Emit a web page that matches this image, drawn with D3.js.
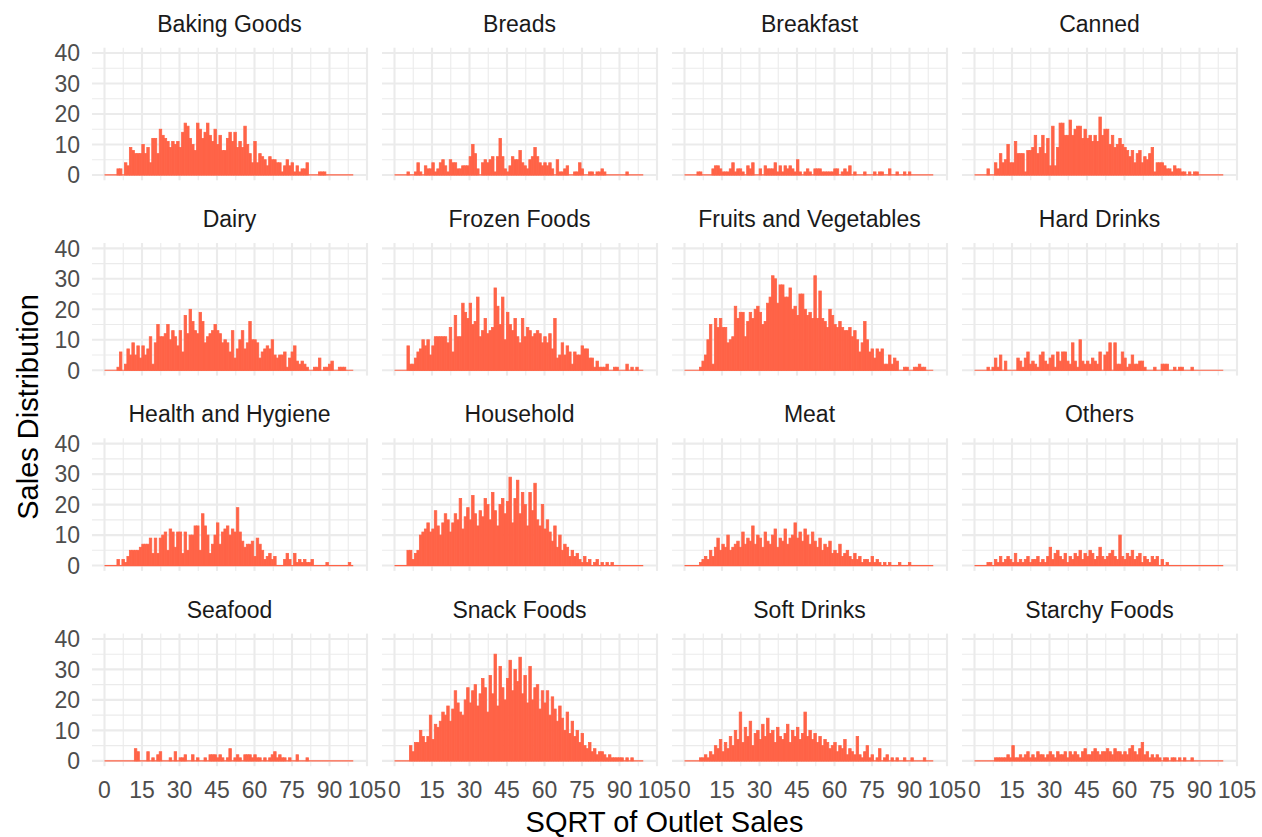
<!DOCTYPE html>
<html><head><meta charset="utf-8">
<script src="https://cdn.jsdelivr.net/npm/d3@7"></script>
<style>body{margin:0;background:#fff}svg{display:block}text{font-family:"Liberation Sans",Arial,Helvetica,sans-serif}</style>
</head><body><svg id="chart" width="1262" height="837"></svg>
<script>
const categories = ["Baking Goods","Breads","Breakfast","Canned","Dairy","Frozen Foods","Fruits and Vegetables","Hard Drinks","Health and Hygiene","Household","Meat","Others","Seafood","Snack Foods","Soft Drinks","Starchy Foods"];

const bakingGoods = [0,0,0,0,0,2,2,0,4,3, 9,8,7,7,7,10,7,9,4,12, 12,7,15,13,12,11,9,11,10,11, 9,14,17,16,12,10,8,17,15,12, 14,17,13,11,15,10,13,8,8,12, 14,11,14,9,11,9,16,10,7,4, 11,4,7,6,5,3,6,5,5,4, 4,1,3,5,3,4,1,3,1,2, 2,4,0,0,0,0,1,1,1,0, 0,0,0,0,0,0,0,0,0,0];
const breads = [0,0,0,0,0,1,0,0,1,4, 1,0,3,2,2,4,1,2,4,5, 3,1,5,4,4,2,2,3,3,3, 6,10,7,2,0,4,5,4,5,6, 1,6,12,6,2,1,3,6,5,5, 8,4,3,2,5,6,9,6,4,3, 4,3,4,2,0,5,1,1,2,3, 0,0,1,1,4,2,0,0,1,1, 0,1,1,2,1,0,0,0,0,0, 0,0,0,1,0,0,0,0,0,0];
const breakfast = [0,0,0,0,0,1,1,0,0,0, 0,2,3,3,2,1,1,1,2,4, 1,2,2,1,0,3,2,4,0,0, 2,0,3,2,2,2,4,1,3,1, 3,2,3,2,1,5,1,0,1,2, 1,0,2,2,2,1,1,1,1,1, 2,2,0,1,2,1,3,0,1,0, 0,0,1,0,0,0,1,0,1,1, 0,0,2,0,0,1,0,0,1,0, 1,0,0,0,0,0,0,0,0,0];
const canned = [0,0,0,0,0,2,0,0,4,2, 7,4,5,10,4,4,11,7,7,7, 1,8,8,9,13,7,9,13,7,12, 3,16,3,9,17,17,13,13,18,13, 15,16,16,12,15,12,13,11,13,11, 19,13,15,15,10,13,9,10,12,10, 9,8,6,8,4,7,8,4,6,5, 7,9,1,4,4,4,3,2,2,1, 3,2,2,1,1,0,1,0,1,1, 0,0,0,0,0,0,0,0,0,0];
const dairy = [0,0,0,0,0,1,6,0,2,7, 5,9,5,8,4,8,5,7,11,2, 9,15,11,11,12,15,10,13,11,8, 13,6,18,12,20,16,13,12,19,16, 9,11,12,13,15,13,12,9,10,9, 6,13,4,7,10,13,7,9,16,10, 10,9,4,6,7,8,7,10,5,4, 5,5,6,1,4,6,8,3,2,3, 2,1,0,0,1,1,4,0,1,1, 2,3,0,0,1,1,1,0,0,0];
const frozenFoods = [0,0,0,0,0,8,2,2,4,6, 7,10,8,10,5,8,11,11,11,11, 11,9,14,6,18,11,11,22,19,17, 22,15,16,24,11,13,17,12,13,14, 27,21,15,24,10,19,15,13,17,11, 9,17,11,14,13,11,12,13,12,9, 11,9,12,7,17,4,5,9,5,8, 6,2,6,5,5,8,7,7,4,4, 1,3,1,1,1,2,0,0,1,1, 0,0,0,2,0,1,0,1,0,0];
const fruitsVegetables = [0,0,0,0,0,0,1,3,5,10, 15,2,17,14,17,14,14,9,10,11, 21,17,19,19,11,16,19,17,20,21, 19,15,16,22,24,31,30,22,28,28, 24,24,27,20,21,18,25,25,20,18, 19,17,31,17,26,17,16,14,20,18, 15,14,16,14,13,13,14,11,13,10, 6,9,16,10,6,7,4,7,6,7, 2,2,5,2,4,3,0,0,1,1, 0,0,1,1,2,1,1,0,0,0];
const hardDrinks = [0,0,0,0,0,1,0,1,4,1, 5,0,3,0,0,0,0,4,3,1, 4,6,2,3,2,1,5,6,3,2, 4,5,1,6,3,6,6,3,2,9, 3,1,10,3,2,3,2,4,3,2, 6,0,5,6,9,0,9,2,2,6, 4,1,2,5,2,2,3,3,1,0, 0,0,1,0,0,2,2,2,0,0, 1,0,1,1,0,0,0,1,0,0, 0,0,0,0,0,0,0,0,0,0];
const healthHygiene = [0,0,0,0,0,2,0,2,1,3, 5,5,5,5,6,7,7,7,9,4, 9,4,9,10,11,5,12,11,6,11, 11,4,11,5,10,10,13,13,5,17, 13,10,4,7,10,14,7,11,12,13, 10,12,11,19,11,8,6,7,7,8, 3,9,7,5,2,3,4,2,3,0, 0,0,2,4,2,0,4,1,2,1, 2,1,1,2,0,0,0,0,0,1, 0,0,0,0,0,0,0,0,1,0];
const household = [0,0,0,0,0,5,5,2,4,5, 10,11,12,14,11,12,18,13,10,14, 17,15,11,14,17,15,22,12,16,19, 15,23,17,13,18,16,22,20,15,24, 18,13,20,22,17,21,29,14,22,28, 17,24,20,13,24,18,27,15,13,20, 12,15,11,8,13,6,10,5,7,6, 3,5,3,4,2,1,3,1,2,0, 1,2,0,1,0,1,0,1,0,0, 0,0,0,0,0,0,0,0,0,0];
const meat = [0,0,0,0,0,0,1,2,3,2, 5,3,6,9,5,7,6,10,5,6, 7,8,6,11,7,9,8,13,7,10, 9,6,11,8,7,10,12,6,9,8, 12,7,9,10,14,9,11,8,12,10, 7,11,8,6,9,5,7,6,8,4, 5,4,7,3,4,5,3,2,4,2, 3,1,2,2,1,3,1,2,1,0, 1,0,1,0,0,0,1,0,0,0, 1,0,0,0,0,0,0,0,0,0];
const others = [0,0,0,0,0,1,1,0,2,1, 3,1,2,3,2,1,4,1,2,1, 2,3,1,2,2,3,1,2,1,3, 6,2,4,5,3,2,4,1,3,2, 4,3,5,2,4,3,5,4,2,3, 6,3,2,3,4,5,3,2,10,3, 2,4,3,5,2,3,4,1,3,2, 1,3,2,3,0,2,0,1,0,0, 0,0,0,0,0,0,0,0,0,0, 0,0,0,0,0,0,0,0,0,0];
const seafood = [0,0,0,0,0,0,0,0,0,0, 0,0,4,3,0,0,0,3,0,1, 0,2,3,0,0,0,1,0,3,0, 1,1,2,0,0,2,0,1,0,0, 1,0,2,2,2,1,2,1,0,1, 4,0,1,2,1,0,2,2,2,1, 2,1,1,0,1,0,1,2,3,1, 2,1,1,0,1,0,0,2,0,0, 0,1,0,0,0,0,0,0,0,0, 0,0,0,0,0,0,0,0,0,0];
const snackFoods = [0,0,0,0,0,0,5,3,6,6, 10,8,6,8,15,7,12,11,13,16, 15,18,13,17,23,19,16,15,20,24, 19,23,25,18,22,27,24,16,28,22, 35,18,31,24,20,27,33,23,30,26, 34,22,28,19,31,20,24,25,17,23, 19,23,15,21,17,13,18,14,10,16, 9,13,8,10,6,9,5,4,6,3, 4,2,3,3,2,1,2,1,1,1, 1,1,0,1,0,1,0,0,0,0];
const softDrinks = [0,0,0,0,0,0,1,1,2,1, 3,2,5,4,7,3,6,4,8,5, 10,7,16,6,11,8,13,5,9,10, 7,12,8,14,9,10,6,11,8,7, 9,12,6,10,8,11,7,9,16,8, 10,7,9,6,8,5,7,6,4,5, 6,3,5,4,7,2,4,3,2,8, 2,1,3,5,1,2,0,1,4,0, 1,2,0,1,0,1,0,0,1,0, 0,1,0,0,0,0,1,0,0,0];
const starchyFoods = [0,0,0,0,0,0,0,0,1,1, 1,1,1,2,1,5,1,1,2,1, 2,3,1,2,1,3,2,2,1,2, 3,2,1,3,2,2,3,1,3,2, 3,2,1,3,4,2,2,3,4,3, 2,3,3,4,3,2,4,3,3,2, 3,2,4,5,3,2,4,6,2,3, 1,2,1,2,1,0,1,1,0,1, 1,0,1,0,1,0,0,1,0,0, 0,0,0,0,0,0,0,0,0,0];

const seriesCounts = [bakingGoods,breads,breakfast,canned,dairy,frozenFoods,fruitsVegetables,hardDrinks,healthHygiene,household,meat,others,seafood,snackFoods,softDrinks,starchyFoods];
const xTickLabels = [0,15,30,45,60,75,90,105];
const yTickLabels = [0,10,20,30,40];
const binStart = 0, binWidth = 0.995, binCount = 100;

const svg = d3.select("#chart");
const panelW = 275, panelH = 132.6;
const colX = [92, 382, 672, 962];
const rowY = [47.7, 243, 438.3, 633.6];
const x = d3.scaleLinear().domain([-5, 105]).range([0, panelW]);
const y = d3.scaleLinear().domain([-1.75, 41.75]).range([panelH, 0]);
const xMinor = d3.range(7.5, 105, 15);
const yMinor = [5, 15, 25, 35];
const fill = "#FF6347";

categories.forEach((cat, k) => {
  const col = k % 4, row = Math.floor(k / 4);
  const g = svg.append("g").attr("transform", `translate(${colX[col]},${rowY[row]})`);
  g.selectAll(".vx").data(xMinor).enter().append("line")
    .attr("x1", d => x(d)).attr("x2", d => x(d)).attr("y1", 0).attr("y2", panelH)
    .attr("stroke", "#EBEBEB").attr("stroke-width", 1.1);
  g.selectAll(".hy").data(yMinor).enter().append("line")
    .attr("y1", d => y(d)).attr("y2", d => y(d)).attr("x1", 0).attr("x2", panelW)
    .attr("stroke", "#EBEBEB").attr("stroke-width", 1.1);
  g.selectAll(".vX").data(xTickLabels).enter().append("line")
    .attr("x1", d => x(d)).attr("x2", d => x(d)).attr("y1", 0).attr("y2", panelH)
    .attr("stroke", "#EBEBEB").attr("stroke-width", 2.1);
  g.selectAll(".hY").data(yTickLabels).enter().append("line")
    .attr("y1", d => y(d)).attr("y2", d => y(d)).attr("x1", 0).attr("x2", panelW)
    .attr("stroke", "#EBEBEB").attr("stroke-width", 2.1);
  // zero-height bins show as a thin outline along the baseline
  g.append("line")
    .attr("x1", x(binStart)).attr("x2", x(binStart + binCount * binWidth))
    .attr("y1", y(0)).attr("y2", y(0))
    .attr("stroke", fill).attr("stroke-width", 1.2);
  const data = seriesCounts[k].map((c, i) => ({x0: binStart + i * binWidth, x1: binStart + (i + 1) * binWidth, c}));
  g.selectAll(".bar").data(data.filter(d => d.c > 0)).enter().append("rect")
    .attr("x", d => x(d.x0)).attr("width", d => x(d.x1) - x(d.x0))
    .attr("y", d => y(d.c)).attr("height", d => y(0) - y(d.c))
    .attr("fill", fill).attr("stroke", fill).attr("stroke-width", 0.8);
  svg.append("text").attr("x", colX[col] + panelW / 2).attr("y", rowY[row] - 16)
    .attr("text-anchor", "middle").attr("font-size", 23).attr("fill", "#1A1A1A").text(cat);
  if (col === 0) {
    svg.selectAll(null).data(yTickLabels).enter().append("text")
      .attr("x", 80).attr("y", d => rowY[row] + y(d)).attr("dy", "0.36em")
      .attr("text-anchor", "end").attr("font-size", 23).attr("fill", "#4D4D4D").text(d => d);
  }
  if (row === 3) {
    svg.selectAll(null).data(xTickLabels).enter().append("text")
      .attr("x", d => colX[col] + x(d)).attr("y", rowY[row] + panelH + 32)
      .attr("text-anchor", "middle").attr("font-size", 23).attr("fill", "#4D4D4D").text(d => d);
  }
});

svg.append("text").attr("x", (colX[0] + colX[3] + panelW) / 2).attr("y", 832)
  .attr("text-anchor", "middle").attr("font-size", 29).attr("fill", "#000").text("SQRT of Outlet Sales");
svg.append("text").attr("transform", `translate(38,${(rowY[0] + rowY[3] + panelH) / 2}) rotate(-90)`)
  .attr("text-anchor", "middle").attr("font-size", 29).attr("fill", "#000").text("Sales Distribution");
</script></body></html>
